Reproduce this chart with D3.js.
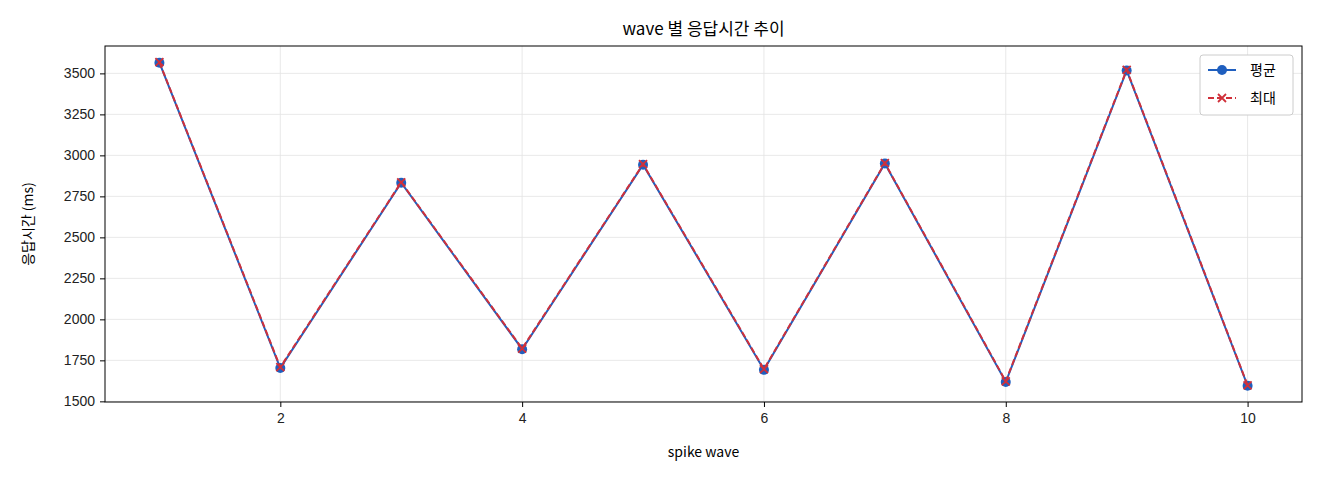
<!DOCTYPE html>
<html>
<head>
<meta charset="utf-8">
<script src="https://cdn.jsdelivr.net/npm/d3@7"></script>
<style>
body { margin: 0; background: #fff; font-family: "Noto Sans CJK KR", "DejaVu Sans", sans-serif; }
</style>
</head>
<body>
<div id="chart"></div>
<script>
var waves = [1, 2, 3, 4, 5, 6, 7, 8, 9, 10];
var avgValues = [3565, 1703, 2833, 1818, 2943, 1692, 2950, 1618, 3518, 1595];
var maxValues = [3568, 1708, 2836, 1822, 2946, 1696, 2953, 1622, 3522, 1598];
var yTicks = [1500, 1750, 2000, 2250, 2500, 2750, 3000, 3250, 3500];
var xTicks = [2, 4, 6, 8, 10];

var width = 1320, height = 480;
var mLeft = 105, mRight = 1302, mTop = 46, mBottom = 402;

var svg = d3.select('#chart').append('svg')
	.attr('width', width).attr('height', height);

var x = d3.scaleLinear().domain([0.55, 10.45]).range([mLeft, mRight]);
var y = d3.scaleLinear().domain([1496, 3667]).range([mBottom, mTop]);

// grid
svg.append('g').selectAll('line').data(xTicks).enter().append('line')
	.attr('x1', d => x(d)).attr('x2', d => x(d)).attr('y1', mTop).attr('y2', mBottom)
	.attr('stroke', '#e3e3e3').attr('stroke-width', 0.8);
svg.append('g').selectAll('line').data(yTicks).enter().append('line')
	.attr('y1', d => y(d)).attr('y2', d => y(d)).attr('x1', mLeft).attr('x2', mRight)
	.attr('stroke', '#e3e3e3').attr('stroke-width', 0.8);

// axes
svg.append('g').attr('transform', 'translate(0,' + mBottom + ')')
	.call(d3.axisBottom(x).tickValues(xTicks).tickSize(5).tickPadding(6))
	.call(g => g.select('.domain').remove())
	.selectAll('text').style('font-size', '14px').attr('fill', '#222');
svg.append('g').attr('transform', 'translate(' + mLeft + ',0)')
	.call(d3.axisLeft(y).tickValues(yTicks).tickFormat(d3.format('d')).tickSize(5).tickPadding(5))
	.call(g => g.select('.domain').remove())
	.selectAll('text').style('font-size', '14px').attr('fill', '#222');

svg.append('rect').attr('x', mLeft).attr('y', mTop)
	.attr('width', mRight - mLeft).attr('height', mBottom - mTop)
	.attr('fill', 'none').attr('stroke', '#000').attr('stroke-width', 1);

// lines
var line = d3.line().x((d, i) => x(waves[i])).y(d => y(d));
svg.append('path').datum(avgValues).attr('d', line)
	.attr('fill', 'none').attr('stroke', '#1f5fbf').attr('stroke-width', 2);
svg.selectAll('.avg').data(avgValues).enter().append('circle')
	.attr('cx', (d, i) => x(waves[i])).attr('cy', d => y(d)).attr('r', 5)
	.attr('fill', '#1f5fbf');
svg.append('path').datum(maxValues).attr('d', line)
	.attr('fill', 'none').attr('stroke', '#d0303a').attr('stroke-width', 2)
	.attr('stroke-dasharray', '6,3');
svg.selectAll('.mx').data(maxValues).enter().append('path')
	.attr('transform', (d, i) => 'translate(' + x(waves[i]) + ',' + y(d) + ')')
	.attr('d', 'M-4,-4L4,4M-4,4L4,-4')
	.attr('stroke', '#d0303a').attr('stroke-width', 1.8);

// labels
svg.append('text').attr('x', (mLeft + mRight) / 2).attr('y', 35)
	.attr('text-anchor', 'middle').style('font-size', '17px').text('wave 별 응답시간 추이');
svg.append('text').attr('x', (mLeft + mRight) / 2).attr('y', 457)
	.attr('text-anchor', 'middle').style('font-size', '14px').text('spike wave');
svg.append('text').attr('transform', 'translate(33,' + ((mTop + mBottom) / 2) + ') rotate(-90)')
	.attr('text-anchor', 'middle').style('font-size', '14px').text('응답시간 (ms)');

// legend
var lg = svg.append('g').attr('transform', 'translate(1200,55)');
lg.append('rect').attr('width', 93).attr('height', 60).attr('rx', 3)
	.attr('fill', '#fff').attr('stroke', '#ccc');
lg.append('line').attr('x1', 8).attr('x2', 36).attr('y1', 15).attr('y2', 15)
	.attr('stroke', '#1f5fbf').attr('stroke-width', 2);
lg.append('circle').attr('cx', 22).attr('cy', 15).attr('r', 5).attr('fill', '#1f5fbf');
lg.append('text').attr('x', 50).attr('y', 20).style('font-size', '14px').text('평균');
lg.append('line').attr('x1', 8).attr('x2', 36).attr('y1', 43).attr('y2', 43)
	.attr('stroke', '#d0303a').attr('stroke-width', 2).attr('stroke-dasharray', '6,3');
lg.append('path').attr('transform', 'translate(22,43)').attr('d', 'M-4,-4L4,4M-4,4L4,-4')
	.attr('stroke', '#d0303a').attr('stroke-width', 1.8);
lg.append('text').attr('x', 50).attr('y', 48).style('font-size', '14px').text('최대');
</script>
</body>
</html>
